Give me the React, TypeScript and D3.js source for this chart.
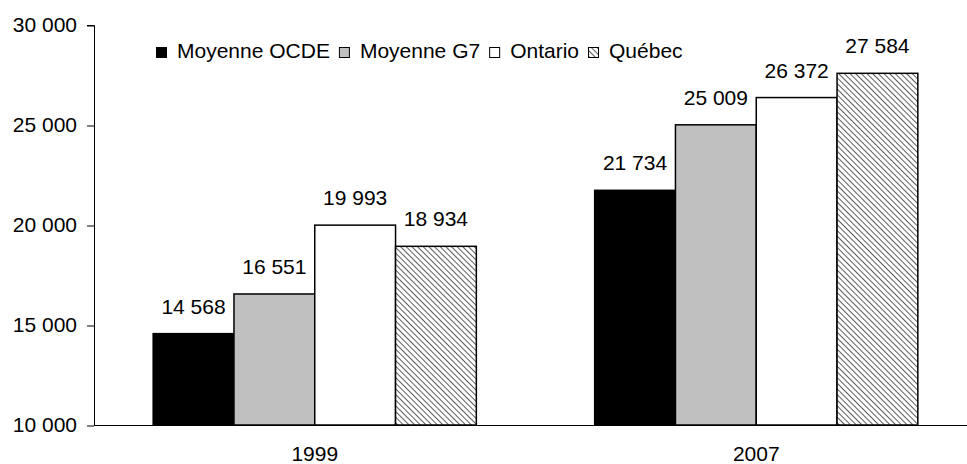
import React, { useEffect, useRef } from "react"
import * as d3 from "d3"

const categories = ["1999", "2007"]
const seriesNames = ["Moyenne OCDE", "Moyenne G7", "Ontario", "Québec"]
const values1999 = [14568, 16551, 19993, 18934]
const values2007 = [21734, 25009, 26372, 27584]
const yTicks = [10000, 15000, 20000, 25000, 30000]

const valuesByCategory = [values1999, values2007]
const fills = ["#000000", "#c0c0c0", "#ffffff", "url(#hatch)"]

const font = "'Liberation Sans', Arial, sans-serif"
const fontSize = "21px"
const fmt = (v: number) => d3.format(",")(v).replace(/,/g, " ")

export default function App() {
	const width = 967
	const height = 464
	const left = 94
	const top = 25
	const bottom = 425

	const x0 = d3.scaleBand().domain(categories).range([left, left + 883]).paddingInner(0.268).paddingOuter(0.134)
	const x1 = d3.scaleBand().domain(seriesNames).range([0, x0.bandwidth()])
	const y = d3.scaleLinear().domain([10000, 30000]).range([bottom, top])

	const yAxisRef = useRef<SVGGElement>(null)
	const legendRef = useRef<SVGGElement>(null)

	useEffect(() => {
		const g = d3.select(yAxisRef.current)
		g.call(d3.axisLeft(y).tickValues(yTicks).tickSize(7).tickPadding(10).tickFormat(d => fmt(d as number)) as any)
		g.select(".domain").attr("d", `M-7,${top}.5H0.5V${bottom}.5`).attr("stroke", "#000")
		g.selectAll("text").style("font-family", font).style("font-size", fontSize).attr("fill", "#000")
		g.selectAll("line").attr("stroke", "#000").attr("transform", "translate(0,0.5)")
	}, [])

	useEffect(() => {
		const g = d3.select(legendRef.current)
		g.selectAll("*").remove()
		let cx = 156
		seriesNames.forEach((name, i) => {
			g.append("rect").attr("x", cx + 0.5).attr("y", 47.5).attr("width", 10).attr("height", 10)
				.attr("fill", fills[i]).attr("stroke", "#000").attr("stroke-width", 1)
			const t = g.append("text").attr("x", cx + 21).attr("y", 58).text(name)
				.style("font-family", font).style("font-size", fontSize).attr("fill", "#000")
			const w = (t.node() as SVGTextElement).getComputedTextLength()
			cx += 21 + w + 9
		})
	}, [])

	return (
		<svg width={width} height={height} style={{ position: "absolute", left: 0, top: 0, background: "#fff" }}>
			<defs>
				<pattern id="hatch" width={4} height={4} patternUnits="userSpaceOnUse" patternTransform="rotate(-45)">
					<rect width={4} height={4} fill="#fff" />
					<line x1={0} y1={0} x2={0} y2={4} stroke="#333" strokeWidth={1.6} />
				</pattern>
			</defs>
			{categories.map((c, ci) => (
				<g key={c} transform={`translate(${x0(c)},0)`}>
					{seriesNames.map((s, si) => {
						const v = valuesByCategory[ci][si]
						return (
							<rect key={s} x={x1(s)} y={y(v)} width={x1.bandwidth()} height={bottom - y(v)}
								fill={fills[si]} stroke="#000" strokeWidth={1.5} />
						)
					})}
					{seriesNames.map((s, si) => {
						const v = valuesByCategory[ci][si]
						return (
							<text key={s} x={(x1(s) as number) + x1.bandwidth() / 2} y={y(v) - 20} textAnchor="middle"
								style={{ fontFamily: font, fontSize }}>{fmt(v)}</text>
						)
					})}
					<text x={x0.bandwidth() / 2} y={bottom + 36} textAnchor="middle"
						style={{ fontFamily: font, fontSize }}>{c}</text>
				</g>
			))}
			<line x1={left} x2={width} y1={bottom + 0.5} y2={bottom + 0.5} stroke="#000" />
			<g ref={yAxisRef} transform={`translate(${left},0)`} />
			<g ref={legendRef} />
		</svg>
	)
}
